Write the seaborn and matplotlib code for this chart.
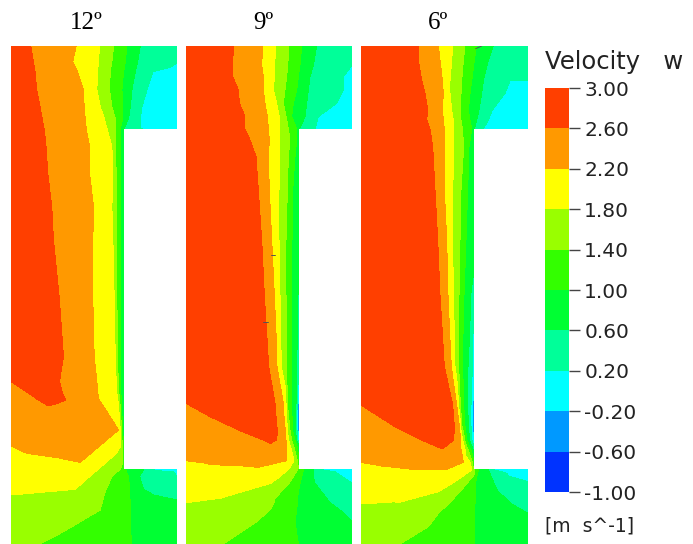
import numpy as np
import pandas as pd
import seaborn as sns
import matplotlib.pyplot as plt
from matplotlib.colors import ListedColormap
from matplotlib.patches import Rectangle
from matplotlib.tri import Triangulation

sns.set_theme(style="white")

# velocity levels and their band colours, low to high
levels = [-1.0, -0.6, -0.2, 0.2, 0.6, 1.0, 1.4, 1.8, 2.2, 2.6, 3.0]
band_colors = ["#0033FF", "#0099FF", "#00FFFF", "#00FF99", "#00FF33",
               "#33FF00", "#99FF00", "#FFFF00", "#FF9900", "#FF3F00"]
tick_labels = ["3.00", "2.60", "2.20", "1.80", "1.40", "1.00", "0.60", "0.20", "-0.20", "-0.60", "-1.00"]
titles = ["12º", "9º", "6º"]

# velocity readings: (height below top of domain, [(x, velocity), ...])
# lengths are in thirds of a pixel of the original figure
rows_12 = [
    (0, [(33, 2.9), (92, 2.6), (228, 2.2), (298, 1.8), (340, 1.4), (380, 1.0), (420, 0.6), (475, 0.45), (530, 0.35)]),
    (47, [(33, 2.9), (100, 2.6), (218, 2.2), (295, 1.8), (335, 1.4), (375, 1.0), (412, 0.6), (470, 0.35), (530, 0.22)]),
    (77, [(33, 2.9), (105, 2.6), (232, 2.2), (292, 1.8), (330, 1.4), (370, 1.0), (405, 0.6), (458, 0.2), (530, 0.1)]),
    (132, [(33, 2.9), (110, 2.6), (250, 2.2), (290, 1.8), (328, 1.4), (365, 1.0), (395, 0.6), (440, 0.2), (530, 0.05)]),
    (182, [(33, 2.9), (120, 2.6), (252, 2.2), (300, 1.8), (335, 1.4), (368, 1.0), (390, 0.6), (425, 0.2), (530, 0.05)]),
    (217, [(33, 2.9), (126, 2.6), (255, 2.2), (312, 1.8), (345, 1.4), (368, 1.0), (385, 0.6), (420, 0.2), (530, 0.05)]),
    (247, [(33, 2.9), (132, 2.6), (258, 2.2), (320, 1.8), (345, 1.4), (360, 1.0), (372, 0.6), (420, 0.2), (460, 0.1), (495, 0.1), (530, 0.05)]),
    (302, [(33, 2.9), (138, 2.6), (268, 2.2), (335, 1.8), (345, 1.4), (362, 1.0), (370, 0.8)]),
    (382, [(33, 2.9), (143, 2.6), (268, 2.2), (338, 1.8), (348, 1.4), (362, 1.0), (370, 0.8)]),
    (482, [(33, 2.9), (155, 2.6), (280, 2.2), (335, 1.8), (348, 1.4), (362, 1.0), (370, 0.8)]),
    (582, [(33, 2.9), (160, 2.6), (278, 2.2), (338, 1.8), (348, 1.4), (362, 1.0), (370, 0.8)]),
    (762, [(33, 2.9), (178, 2.6), (278, 2.2), (342, 1.8), (350, 1.4), (362, 1.0), (370, 0.8)]),
    (932, [(33, 2.9), (190, 2.6), (282, 2.2), (345, 1.8), (352, 1.4), (362, 1.0), (370, 0.8)]),
    (1007, [(33, 2.6), (100, 2.8), (178, 2.6), (290, 2.2), (348, 1.8), (354, 1.4), (362, 1.0), (370, 0.8)]),
    (1042, [(33, 2.45), (86, 2.6), (130, 2.8), (187, 2.6), (293, 2.2), (350, 1.8), (356, 1.4), (362, 1.0), (370, 0.8)]),
    (1062, [(33, 2.4), (115, 2.6), (150, 2.7), (197, 2.6), (297, 2.2), (353, 1.8), (358, 1.4), (363, 1.0), (370, 0.8)]),
    (1080, [(33, 2.38), (145, 2.6), (200, 2.5), (309, 2.2), (355, 1.8), (360, 1.4), (364, 1.0), (370, 0.8)]),
    (1152, [(33, 2.3), (200, 2.32), (355, 2.2), (360, 1.8), (364, 1.4), (367, 1.0), (370, 0.8)]),
    (1199, [(33, 2.2), (150, 2.35), (299, 2.2), (362, 1.8), (366, 1.4), (370, 1.0)]),
    (1222, [(33, 2.1), (80, 2.2), (272, 2.2), (348, 1.8), (368, 1.4), (370, 1.2)]),
    (1249, [(33, 2.0), (240, 2.2), (318, 1.8), (368, 1.4), (370, 1.2)]),
    (1269, [(33, 1.95), (295, 1.8), (360, 1.4), (375, 1.0), (430, 0.6), (440, 0.2), (485, 0.12), (530, 0.1)]),
    (1292, [(33, 1.9), (268, 1.8), (335, 1.4), (385, 1.0), (418, 0.6), (500, 0.4), (530, 0.2)]),
    (1330, [(33, 1.85), (225, 1.8), (318, 1.4), (388, 1.0), (430, 0.6), (530, 0.45)]),
    (1347, [(33, 1.8), (225, 1.75), (312, 1.4), (389, 1.0), (460, 0.6), (530, 0.5)]),
    (1392, [(33, 1.7), (300, 1.4), (390, 1.0), (530, 0.8)]),
    (1457, [(33, 1.55), (190, 1.4), (392, 1.0), (530, 0.85)]),
    (1494, [(33, 1.5), (120, 1.4), (393, 1.0), (530, 0.85)]),
]
rows_9 = [
    (0, [(18, 2.9), (162, 2.6), (248, 2.2), (287, 1.8), (327, 1.4), (365, 1.0), (410, 0.6), (465, 0.45), (516, 0.35)]),
    (57, [(18, 2.9), (156, 2.6), (245, 2.2), (284, 1.8), (323, 1.4), (360, 1.0), (400, 0.6), (460, 0.4), (516, 0.2)]),
    (92, [(18, 2.9), (158, 2.6), (250, 2.2), (283, 1.8), (320, 1.4), (355, 1.0), (390, 0.6), (490, 0.2), (516, 0.1)]),
    (132, [(18, 2.9), (175, 2.6), (250, 2.2), (280, 1.8), (315, 1.4), (350, 1.0), (385, 0.6), (490, 0.2), (516, 0.1)]),
    (172, [(18, 2.9), (178, 2.6), (255, 2.2), (290, 1.8), (310, 1.4), (340, 1.0), (380, 0.6), (470, 0.2), (516, 0.05)]),
    (212, [(18, 2.9), (195, 2.6), (262, 2.2), (298, 1.8), (318, 1.4), (335, 1.0), (375, 0.6), (415, 0.2), (516, 0.05)]),
    (249, [(18, 2.9), (195, 2.6), (265, 2.2), (298, 1.8), (325, 1.4), (350, 1.0), (358, 0.6), (405, 0.2), (445, 0.1), (480, 0.1), (516, 0.05)]),
    (282, [(18, 2.9), (210, 2.6), (268, 2.2), (298, 1.8), (330, 1.4), (350, 1.0), (358, 0.8)]),
    (332, [(18, 2.9), (228, 2.6), (265, 2.2), (298, 1.8), (325, 1.4), (345, 1.0), (358, 0.8)]),
    (432, [(18, 2.9), (235, 2.6), (268, 2.2), (297, 1.8), (322, 1.4), (338, 1.0), (358, 0.78)]),
    (582, [(18, 2.9), (245, 2.6), (275, 2.2), (297, 1.8), (318, 1.4), (336, 1.0), (358, 0.75)]),
    (747, [(18, 2.9), (253, 2.6), (283, 2.2), (300, 1.8), (318, 1.4), (335, 1.0), (354, 0.6), (358, 0.5)]),
    (862, [(18, 2.9), (260, 2.6), (288, 2.2), (302, 1.8), (319, 1.4), (334, 1.0), (352, 0.6), (358, 0.35)]),
    (962, [(18, 2.9), (266, 2.6), (291, 2.2), (304, 1.8), (320, 1.4), (333, 1.0), (350, 0.6), (356, 0.2), (358, 0.1)]),
    (1072, [(18, 2.6), (150, 2.8), (285, 2.6), (310, 2.2), (318, 1.8), (322, 1.4), (335, 1.0), (348, 0.6), (352, 0.2), (354, -0.2), (358, -0.4)]),
    (1112, [(18, 2.45), (90, 2.6), (200, 2.8), (288, 2.6), (312, 2.2), (320, 1.8), (326, 1.4), (336, 1.0), (346, 0.6), (350, 0.2), (352, -0.2), (358, -0.6)]),
    (1154, [(18, 2.4), (180, 2.6), (250, 2.75), (292, 2.6), (316, 2.2), (322, 1.8), (330, 1.4), (338, 1.0), (346, 0.6), (351, 0.2), (353, -0.2), (358, -0.4)]),
    (1182, [(18, 2.38), (250, 2.6), (275, 2.7), (290, 2.6), (318, 2.2), (326, 1.8), (335, 1.4), (344, 1.0), (350, 0.6), (354, 0.2), (358, 0.0)]),
    (1197, [(18, 2.35), (270, 2.55), (320, 2.2), (330, 1.8), (340, 1.4), (350, 1.0), (356, 0.6), (358, 0.4)]),
    (1244, [(18, 2.2), (100, 2.25), (320, 2.2), (342, 1.8), (352, 1.4), (358, 1.1)]),
    (1264, [(18, 2.1), (235, 2.2), (330, 1.8), (355, 1.4), (358, 1.2)]),
    (1272, [(18, 2.08), (235, 2.15), (322, 1.8), (352, 1.4), (370, 1.0), (400, 0.6), (430, 0.2), (475, 0.12), (516, 0.1)]),
    (1292, [(18, 2.0), (300, 1.8), (340, 1.4), (365, 1.0), (400, 0.6), (440, 0.4), (516, 0.15)]),
    (1312, [(18, 1.95), (272, 1.8), (327, 1.4), (360, 1.0), (405, 0.6), (516, 0.2)]),
    (1357, [(18, 1.85), (120, 1.8), (285, 1.4), (352, 1.0), (440, 0.6), (516, 0.4)]),
    (1370, [(18, 1.8), (120, 1.76), (282, 1.4), (352, 1.0), (450, 0.6), (516, 0.35)]),
    (1392, [(18, 1.75), (270, 1.4), (350, 1.0), (480, 0.6), (516, 0.45)]),
    (1427, [(18, 1.7), (230, 1.4), (345, 1.0), (516, 0.6)]),
    (1494, [(18, 1.6), (130, 1.4), (355, 1.0), (516, 0.75)]),
]
rows_6 = [
    (0, [(18, 2.9), (190, 2.6), (250, 2.2), (293, 1.8), (330, 1.4), (365, 1.0), (415, 0.6), (470, 0.5), (519, 0.45)]),
    (42, [(18, 2.9), (190, 2.6), (255, 2.2), (290, 1.8), (325, 1.4), (358, 1.0), (400, 0.6), (460, 0.45), (519, 0.35)]),
    (104, [(18, 2.9), (200, 2.6), (262, 2.2), (285, 1.8), (320, 1.4), (350, 1.0), (385, 0.6), (465, 0.2), (519, 0.2)]),
    (142, [(18, 2.9), (210, 2.6), (265, 2.2), (285, 1.8), (318, 1.4), (345, 1.0), (380, 0.6), (450, 0.2), (519, 0.1)]),
    (192, [(18, 2.9), (218, 2.6), (262, 2.2), (290, 1.8), (315, 1.4), (340, 1.0), (372, 0.6), (412, 0.2), (519, 0.05)]),
    (222, [(18, 2.9), (215, 2.6), (265, 2.2), (295, 1.8), (318, 1.4), (345, 1.0), (365, 0.6), (400, 0.2), (519, 0.05)]),
    (249, [(18, 2.9), (225, 2.6), (268, 2.2), (295, 1.8), (322, 1.4), (350, 1.0), (358, 0.6), (385, 0.2), (430, 0.1), (475, 0.1), (519, 0.05)]),
    (302, [(18, 2.9), (233, 2.6), (268, 2.2), (297, 1.8), (326, 1.4), (342, 1.0), (358, 0.8)]),
    (432, [(18, 2.9), (240, 2.6), (268, 2.2), (293, 1.8), (318, 1.4), (338, 1.0), (358, 0.75)]),
    (582, [(18, 2.9), (248, 2.6), (275, 2.2), (293, 1.8), (315, 1.4), (333, 1.0), (358, 0.7)]),
    (747, [(18, 2.9), (255, 2.6), (279, 2.2), (295, 1.8), (312, 1.4), (327, 1.0), (347, 0.6), (358, 0.5)]),
    (862, [(18, 2.9), (262, 2.6), (284, 2.2), (298, 1.8), (311, 1.4), (324, 1.0), (344, 0.6), (354, 0.2), (358, 0.1)]),
    (962, [(18, 2.9), (268, 2.6), (289, 2.2), (300, 1.8), (311, 1.4), (323, 1.0), (339, 0.6), (352, 0.2), (358, 0.0)]),
    (1077, [(18, 2.6), (150, 2.8), (293, 2.6), (305, 2.2), (310, 1.8), (316, 1.4), (326, 1.0), (338, 0.6), (348, 0.2), (353, -0.2), (358, -0.5)]),
    (1142, [(18, 2.42), (120, 2.6), (210, 2.8), (298, 2.6), (313, 2.2), (317, 1.8), (321, 1.4), (330, 1.0), (340, 0.6), (348, 0.2), (352, -0.2), (358, -0.6)]),
    (1182, [(18, 2.4), (200, 2.6), (255, 2.75), (296, 2.6), (317, 2.2), (323, 1.8), (328, 1.4), (336, 1.0), (344, 0.6), (351, 0.2), (358, -0.3)]),
    (1209, [(18, 2.33), (262, 2.6), (318, 2.2), (330, 1.8), (338, 1.4), (346, 1.0), (354, 0.6), (358, 0.3)]),
    (1249, [(18, 2.2), (100, 2.25), (325, 2.2), (345, 1.8), (352, 1.4), (356, 1.0), (358, 0.8)]),
    (1272, [(18, 2.12), (190, 2.2), (270, 2.2), (350, 1.8), (360, 1.4), (370, 1.0), (400, 0.6), (420, 0.2), (470, 0.05), (519, -0.1)]),
    (1307, [(18, 2.0), (300, 1.8), (340, 1.4), (362, 1.0), (415, 0.6), (519, 0.2)]),
    (1337, [(18, 1.9), (250, 1.8), (315, 1.4), (362, 1.0), (430, 0.6), (519, 0.3)]),
    (1374, [(18, 1.8), (130, 1.78), (280, 1.4), (360, 1.0), (470, 0.6), (519, 0.4)]),
    (1402, [(18, 1.75), (250, 1.4), (358, 1.0), (519, 0.6)]),
    (1442, [(18, 1.7), (220, 1.4), (358, 1.0), (519, 0.75)]),
    (1494, [(18, 1.6), (135, 1.4), (360, 1.0), (519, 0.85)]),
]
# wall of each case: left edge of the white block (same units as the rows)
wall_x = [370, 358, 358]
wall_top = 248
wall_bottom = 1270
all_rows = [rows_12, rows_9, rows_6]
x_limits = [(33, 530), (18, 516), (18, 519)]
# stray dark specks in the plots: (x0, x1, y0, y1)
specks = [[], [(273, 286, 627, 627), (248, 264, 828, 828)], [(362, 380, 8, 0)]]

W, H = 693, 544
fig = plt.figure(figsize=(W / 100, H / 100), dpi=100)


def pixel_axes(left, top, right, bottom):
    return fig.add_axes([left / W, 1 - bottom / H, (right - left) / W, (bottom - top) / H])


panel_left = [11, 186, 361]
panel_right = [177, 352, 528]
title_x = [86, 263, 438]

for i, rows in enumerate(all_rows):
    ax = pixel_axes(panel_left[i], 46, panel_right[i], 544)
    table = pd.DataFrame(
        [(y, x, v) for y, points in rows for x, v in points],
        columns=["y", "x", "w"],
    )
    tri = Triangulation(table["x"], table["y"])
    ax.tricontourf(tri, table["w"], levels=levels, colors=band_colors)
    ax.add_patch(Rectangle((wall_x[i], wall_top), x_limits[i][1] - wall_x[i] + 5,
                           wall_bottom - wall_top, facecolor="white", edgecolor="none", zorder=3))
    for x0, x1, y0, y1 in specks[i]:
        ax.plot([x0, x1], [y0, y1], color="#555555", lw=0.7, zorder=4)
    ax.set_xlim(*x_limits[i])
    ax.set_ylim(1494, 0)
    ax.axis("off")
    fig.text(title_x[i] / W, 1 - 23 / H, titles[i], family="Liberation Serif", fontsize=18,
             color="black", ha="center", va="center")

# colour scale
cax = pixel_axes(545, 88, 569, 492)
mids = np.array([[(levels[k] + levels[k + 1]) / 2] for k in range(len(band_colors))][::-1])
sns.heatmap(mids, ax=cax, cmap=ListedColormap(band_colors), vmin=levels[0], vmax=levels[-1],
            cbar=False, xticklabels=False, yticklabels=False)
cax.yaxis.tick_right()
cax.set_yticks(np.arange(len(tick_labels)))
cax.set_yticklabels(tick_labels, rotation=0, family="DejaVu Sans", fontsize=14.5, color="#222222", ha="left")
cax.tick_params(axis="y", right=True, left=False, length=8, width=1, color="#444444", pad=3)

fig.text(545 / W, 1 - 62 / H, "Velocity   w", family="DejaVu Sans", fontsize=17.5, color="#222222",
         ha="left", va="center")
fig.text(545 / W, 1 - 526 / H, "[m  s^-1]", family="DejaVu Sans", fontsize=13.5, color="#222222",
         ha="left", va="center")

fig.savefig("out.png", dpi=100)
